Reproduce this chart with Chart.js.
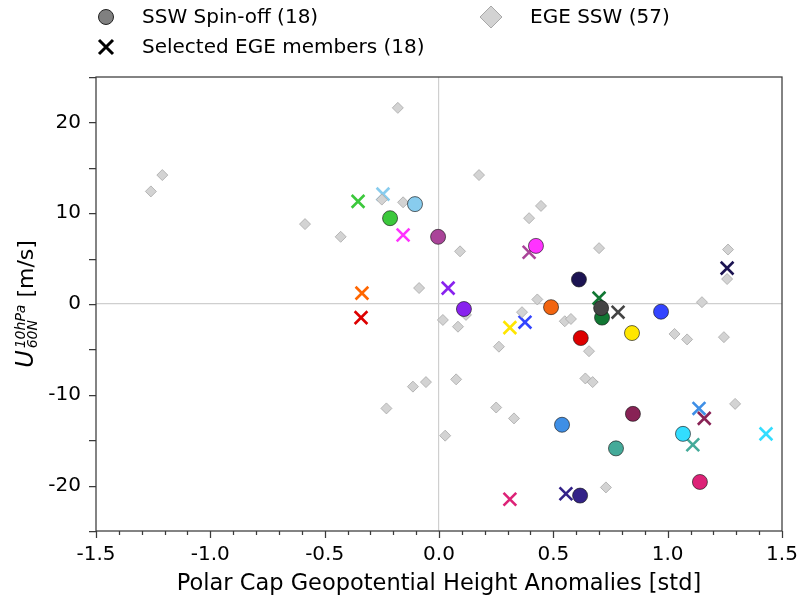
<!DOCTYPE html>
<html>
<head>
<meta charset="utf-8">
<title>SSW spin-off vs EGE</title>
<script src="https://cdn.jsdelivr.net/npm/chart.js@4.4.1/dist/chart.umd.min.js"></script>
<style>
  body { margin: 0; background: #fff; }
  #wrap { width: 799px; height: 602px; }
</style>
</head>
<body>
<div id="wrap"><canvas id="my-chart" width="799" height="602"></canvas></div>
<script>
// SSW Spin-off runs (circles)
const spinX = [-0.105, -0.214, -0.004, 0.424, 0.612, 0.109, 0.490, 0.713, 0.709, 0.971, 0.844, 0.620, 0.538, 0.848, 0.774, 1.067, 1.141, 0.617];
const spinY = [11.0, 9.45, 7.4, 6.4, 2.7, -0.55, -0.35, -1.5, -0.45, -0.85, -3.2, -3.75, -13.3, -12.1, -15.9, -14.3, -19.6, -21.1];
const spinColors = ['#88ccee', '#3cc83c', '#aa4499', '#ff33ff', '#1c1452', '#8822ee', '#f26510', '#117733', '#444444',
  '#3344ff', '#ffe600', '#dd0000', '#3f8fe6', '#882255', '#44aa99', '#33ddff', '#dd2277', '#332288'];

// Selected EGE members (crosses)
const selX = [-0.354, -0.245, -0.157, -0.337, -0.341, 0.040, 0.394, 0.310, 0.376, 0.700, 0.783, 1.260, 0.555, 0.310, 1.137, 1.160, 1.110, 1.430];
const selY = [11.3, 12.1, 7.6, 1.2, -1.5, 1.75, 5.7, -2.6, -2.0, 0.65, -0.9, 3.95, -20.9, -21.5, -11.5, -12.6, -15.5, -14.3];
const selColors = ['#3cc83c', '#88ccee', '#ff33ff', '#ff6600', '#dd0000', '#8822ee', '#aa4499', '#ffe600', '#3344ff',
  '#117733', '#444444', '#1c1452', '#332288', '#dd2277', '#3f8fe6', '#882255', '#44aa99', '#33ddff'];

// All EGE SSW events (diamonds)
const egeX = [-1.26, -1.21, -0.586, -0.43, -0.18, -0.25, -0.157, -0.087, 0.092, 0.175, 0.017, 0.083, 0.118,
  0.394, 0.446, 0.70, 1.264, 1.26, 0.43, 1.15, 0.363, 0.55, 0.577, 0.262, 0.656, 1.03, 1.085, 1.246,
  0.075, 0.64, 0.672, 0.25, 0.328, 0.027, 0.73, 1.295, -0.114, -0.057, -0.23,
  -0.105, -0.214, -0.004, 0.424, 0.612, 0.109, 0.49, 0.713, 0.709, 0.971, 0.844, 0.62, 0.538, 0.848, 0.774, 1.067, 1.141, 0.617];
const egeY = [12.4, 14.2, 8.8, 7.4, 21.6, 11.5, 11.2, 1.76, 5.8, 14.2, -1.76, -2.5, -1.2,
  9.45, 10.8, 6.15, 6.0, 2.75, 0.5, 0.2, -0.9, -1.9, -1.65, -4.7, -5.2, -3.3, -3.9, -3.65,
  -8.3, -8.2, -8.6, -11.4, -12.6, -14.5, -20.2, -11.0, -9.1, -8.6, -11.5,
  11.0, 9.45, 7.4, 6.4, 2.7, -0.55, -0.35, -1.5, -0.45, -0.85, -3.2, -3.75, -13.3, -12.1, -15.9, -14.3, -19.6, -21.1];

const seriesLabels = ['SSW Spin-off (18)', 'EGE SSW (57)', 'Selected EGE members (18)'];

const xTicks = [-1.5, -1.0, -0.5, 0.0, 0.5, 1.0, 1.5];
const xMinorTicks = [-1.4, -1.3, -1.2, -1.1, -0.9, -0.8, -0.7, -0.6, -0.4, -0.3, -0.2, -0.1,
  0.1, 0.2, 0.3, 0.4, 0.6, 0.7, 0.8, 0.9, 1.1, 1.2, 1.3, 1.4];
const yTicks = [-20, -10, 0, 10, 20];
const yMinorTicks = [-25, -15, -5, 5, 15, 25];

const FONT = '"DejaVu Sans", sans-serif';

function toPoints(xs, ys) {
  return xs.map((x, i) => ({x: x, y: ys[i]}));
}

// frame around the plot and outward tick marks
const axisFrame = {
  id: 'axisFrame',
  afterDraw(chart) {
    const {ctx, chartArea: a, scales: {x, y}} = chart;
    ctx.save();
    ctx.strokeStyle = '#3a3a3a';
    ctx.lineWidth = 1.25;
    ctx.strokeRect(a.left, a.top, a.right - a.left, a.bottom - a.top);
    ctx.beginPath();
    xTicks.forEach(v => {
      const px = Math.round(x.getPixelForValue(v)) + 0.5;
      ctx.moveTo(px, a.bottom); ctx.lineTo(px, a.bottom + 7);
    });
    xMinorTicks.forEach(v => {
      const px = Math.round(x.getPixelForValue(v)) + 0.5;
      ctx.moveTo(px, a.bottom); ctx.lineTo(px, a.bottom + 4);
    });
    yTicks.concat(yMinorTicks).forEach(v => {
      const py = Math.round(y.getPixelForValue(v)) + 0.5;
      ctx.moveTo(a.left, py); ctx.lineTo(a.left - 7, py);
    });
    ctx.stroke();
    ctx.restore();
  }
};

// y axis title with sub- and superscript
const yTitle = {
  id: 'yTitle',
  afterDraw(chart) {
    const {ctx, chartArea: a} = chart;
    const big = 'italic 24px ' + FONT;
    const small = 'italic 14px ' + FONT;
    const plain = '22px ' + FONT;
    ctx.save();
    ctx.font = big; const wU = ctx.measureText('U').width;
    ctx.font = small; const wSup = ctx.measureText('10hPa').width; const wSub = ctx.measureText('60N').width;
    ctx.font = plain; const wRest = ctx.measureText(' [m/s]').width;
    const total = wU + 2 + Math.max(wSup, wSub) + wRest;
    ctx.translate(33, (a.top + a.bottom) / 2);
    ctx.rotate(-Math.PI / 2);
    ctx.fillStyle = '#000';
    ctx.textBaseline = 'alphabetic';
    let s = -total / 2;
    ctx.font = big; ctx.fillText('U', s, 0);
    s += wU + 2;
    ctx.font = small;
    ctx.fillText('10hPa', s, -8);
    ctx.fillText('60N', s, 4);
    s += Math.max(wSup, wSub);
    ctx.font = plain; ctx.fillText(' [m/s]', s, 0);
    ctx.restore();
  }
};

// legend above the plot
const topLegend = {
  id: 'topLegend',
  afterDraw(chart) {
    const ctx = chart.ctx;
    ctx.save();
    ctx.lineWidth = 1;
    // circle
    ctx.beginPath();
    ctx.arc(106, 17, 7.5, 0, 2 * Math.PI);
    ctx.fillStyle = '#808080'; ctx.fill();
    ctx.strokeStyle = '#222'; ctx.stroke();
    // diamond
    ctx.beginPath();
    ctx.moveTo(491, 6); ctx.lineTo(502, 17); ctx.lineTo(491, 28); ctx.lineTo(480, 17); ctx.closePath();
    ctx.fillStyle = '#d3d3d3'; ctx.fill();
    ctx.strokeStyle = '#a8a8a8'; ctx.stroke();
    // cross
    ctx.beginPath();
    ctx.moveTo(99, 40); ctx.lineTo(113, 54); ctx.moveTo(113, 40); ctx.lineTo(99, 54);
    ctx.strokeStyle = '#000'; ctx.lineWidth = 3; ctx.stroke();

    ctx.fillStyle = '#000';
    ctx.font = '20px ' + FONT;
    ctx.textBaseline = 'middle';
    ctx.fillText(seriesLabels[0], 142, 18);
    ctx.fillText(seriesLabels[1], 530, 18);
    ctx.fillText(seriesLabels[2], 142, 48);
    ctx.restore();
  }
};

const zeroLine = c => (c.tick && c.tick.value === 0) ? '#cfcfcf' : 'rgba(0,0,0,0)';

const ctx = document.getElementById('my-chart').getContext('2d');
const chart = new Chart(ctx, {
  type: 'scatter',
  data: {
    datasets: [
      {
        label: seriesLabels[0],
        data: toPoints(spinX, spinY),
        pointStyle: 'circle',
        pointRadius: 7.5,
        pointHoverRadius: 7.5,
        pointBackgroundColor: spinColors,
        pointBorderColor: 'rgba(20,20,20,0.8)',
        pointBorderWidth: 0.8
      },
      {
        label: seriesLabels[1],
        data: toPoints(egeX, egeY),
        pointStyle: 'rectRot',
        pointRadius: 5.5,
        pointHoverRadius: 5.5,
        pointBackgroundColor: '#d3d3d3',
        pointBorderColor: '#a8a8a8',
        pointBorderWidth: 0.8
      },
      {
        label: seriesLabels[2],
        data: toPoints(selX, selY),
        pointStyle: 'crossRot',
        pointRadius: 9,
        pointHoverRadius: 9,
        pointBorderColor: selColors,
        pointBorderWidth: 2.6
      }
    ]
  },
  options: {
    responsive: false,
    animation: false,
    devicePixelRatio: 1,
    layout: {padding: {top: 77, right: 17, left: 0, bottom: 0}},
    plugins: {legend: {display: false}, tooltip: {enabled: false}},
    scales: {
      x: {
        type: 'linear',
        min: -1.5,
        max: 1.5,
        afterBuildTicks: s => { s.ticks = xTicks.map(v => ({value: v})); },
        afterFit: s => { s.height = 71; s.paddingLeft = 0; s.paddingRight = 0; },
        ticks: {
          callback: v => v.toFixed(1),
          font: {family: FONT, size: 20},
          color: '#000',
          padding: 12,
          maxRotation: 0
        },
        grid: {color: zeroLine, lineWidth: 1.2, drawTicks: false},
        border: {display: false},
        title: {
          display: true,
          text: 'Polar Cap Geopotential Height Anomalies [std]',
          font: {family: FONT, size: 22.5},
          color: '#000',
          padding: {top: 0, bottom: 4}
        }
      },
      y: {
        type: 'linear',
        min: -25,
        max: 25,
        afterBuildTicks: s => { s.ticks = yTicks.map(v => ({value: v})); },
        afterFit: s => { s.width = 96; s.paddingTop = 0; s.paddingBottom = 0; },
        ticks: {
          font: {family: FONT, size: 20},
          color: '#000',
          padding: 15
        },
        grid: {color: zeroLine, lineWidth: 1.2, drawTicks: false},
        border: {display: false}
      }
    }
  },
  plugins: [axisFrame, yTitle, topLegend]
});
</script>
</body>
</html>
